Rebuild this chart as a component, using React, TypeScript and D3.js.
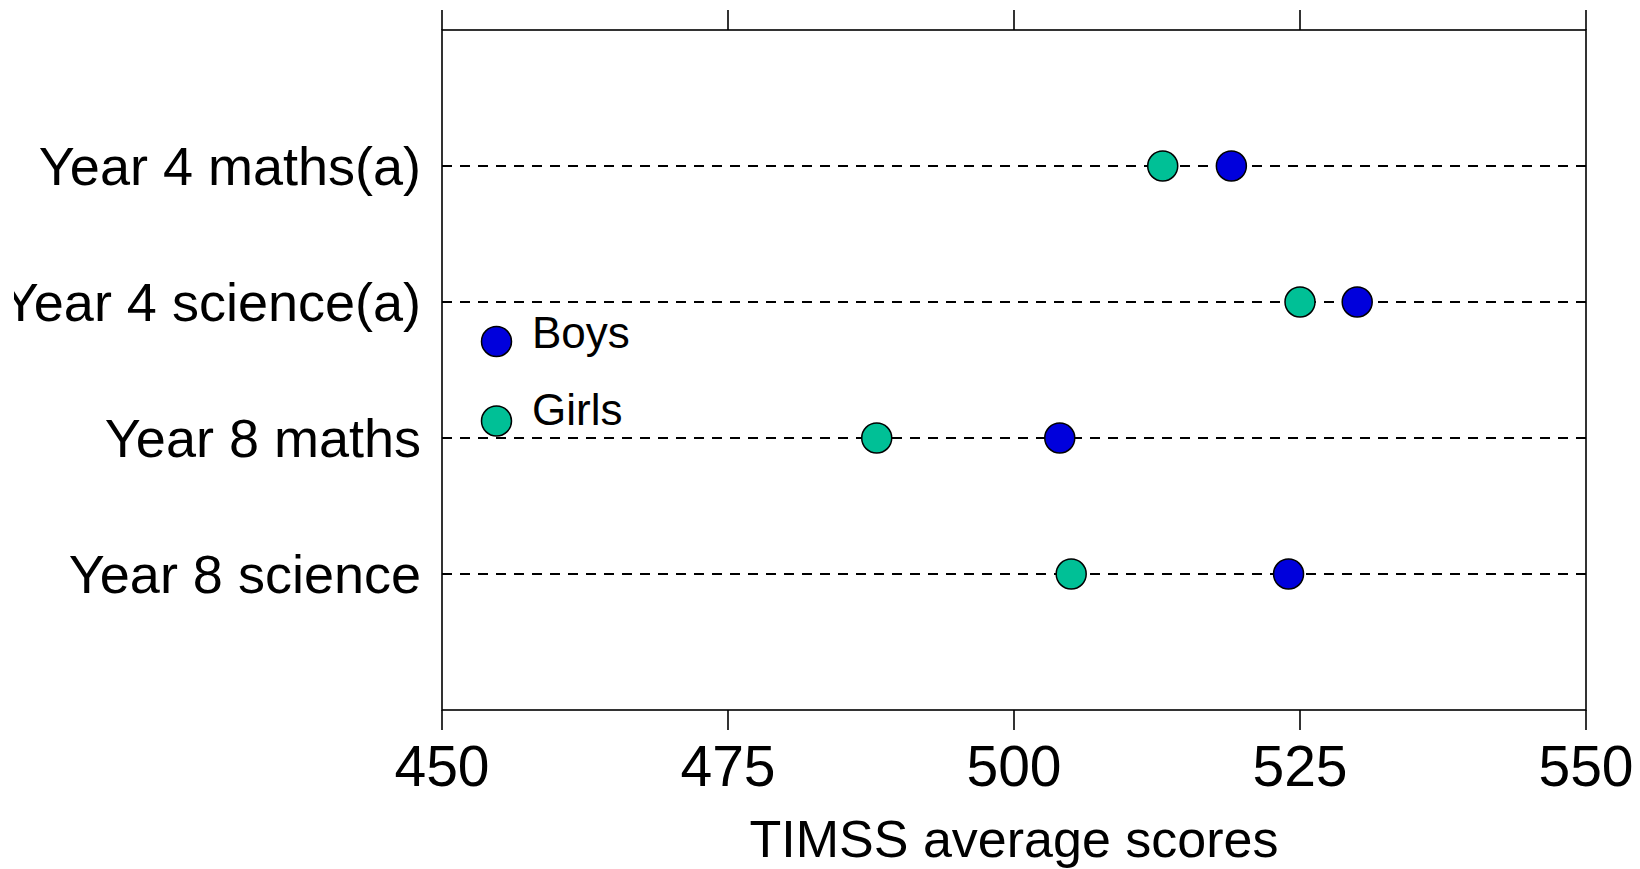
import React from "react";
import * as d3 from "d3";

const categories = ["Year 4 maths(a)", "Year 4 science(a)", "Year 8 maths", "Year 8 science"];
const boys = [519, 530, 504, 524];
const girls = [513, 525, 488, 505];
const xTicks = [450, 475, 500, 525, 550];
const xDomain: [number, number] = [450, 550];
const xTitle = "TIMSS average scores";
const seriesNames = ["Boys", "Girls"];
const seriesColors = ["#0000dc", "#00c096"];

const W = 1640;
const H = 869;
const left = 442;
const right = 1586;
const top = 30;
const bottom = 710;
const FONT = "'Liberation Sans', Arial, sans-serif";

export default function App() {
  const x = d3.scaleLinear().domain(xDomain).range([left, right]);
  const y = d3.scalePoint<string>().domain(categories).range([top, bottom]).padding(1);
  const r = 15;

  return (
    <svg
      width={W}
      height={H}
      viewBox={`0 0 ${W} ${H}`}
      style={{ position: "absolute", left: 0, top: 0, background: "#fff" }}
    >
      <defs>
        <clipPath id="ylab">
          <rect x={14} y={0} width={W} height={H} />
        </clipPath>
      </defs>
      <rect x={0} y={0} width={W} height={H} fill="#fff" />
      {/* frame */}
      <rect x={left} y={top} width={right - left} height={bottom - top} fill="none" stroke="#000" strokeWidth={1.6} />
      {xTicks.map((t) => (
        <g key={t}>
          <line x1={x(t)} x2={x(t)} y1={top} y2={top - 20} stroke="#000" strokeWidth={1.6} />
          <line x1={x(t)} x2={x(t)} y1={bottom} y2={bottom + 20} stroke="#000" strokeWidth={1.6} />
          <text x={x(t)} y={786} textAnchor="middle" fontFamily={FONT} fontSize={57} fill="#000">
            {t}
          </text>
        </g>
      ))}
      <text x={(left + right) / 2} y={857} textAnchor="middle" fontFamily={FONT} fontSize={52} fill="#000">
        {xTitle}
      </text>
      {/* rows */}
      <g clipPath="url(#ylab)">
        {categories.map((c) => (
          <text key={c} x={421} y={(y(c) as number) + 19} textAnchor="end" fontFamily={FONT} fontSize={54} fill="#000">
            {c}
          </text>
        ))}
      </g>
      {categories.map((c) => (
        <line
          key={"l" + c}
          x1={left}
          x2={right}
          y1={y(c)}
          y2={y(c)}
          stroke="#000"
          strokeWidth={1.8}
          strokeDasharray="10,8"
        />
      ))}
      {categories.map((c, i) => (
        <g key={"p" + c}>
          <circle cx={x(girls[i])} cy={y(c)} r={r} fill={seriesColors[1]} stroke="#000" strokeWidth={1.5} />
          <circle cx={x(boys[i])} cy={y(c)} r={r} fill={seriesColors[0]} stroke="#000" strokeWidth={1.5} />
        </g>
      ))}
      {/* legend */}
      {seriesNames.map((s, i) => (
        <g key={s}>
          <circle cx={496.5} cy={341.5 + i * 79.5} r={r} fill={seriesColors[i]} stroke="#000" strokeWidth={1.5} />
          <text x={532} y={348 + i * 77} fontFamily={FONT} fontSize={44} fill="#000">
            {s}
          </text>
        </g>
      ))}
    </svg>
  );
}
